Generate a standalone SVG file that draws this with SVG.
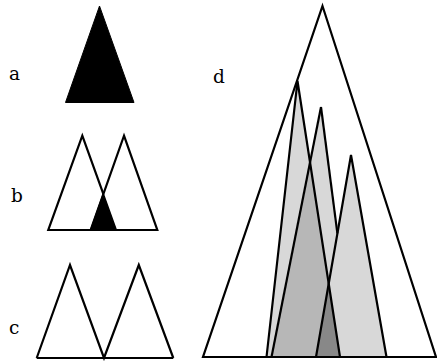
<svg xmlns="http://www.w3.org/2000/svg" width="437" height="361" viewBox="0 0 437 361">
  <style>
    .lbl { font-family: "DejaVu Serif", "Liberation Serif", serif; font-size: 18.5px; fill: #000; }
    .tri { fill: #fff; stroke: #000; stroke-width: 2.2; stroke-linejoin: miter; }
    .edge { fill: none; stroke: #000; stroke-width: 2.2; stroke-linejoin: miter; stroke-linecap: butt; }
    .light { fill: #d8d8d8; stroke: none; }
    .mid { fill: #b7b7b7; stroke: none; }
    .dark { fill: #888888; stroke: none; }
  </style>
  <rect width="437" height="361" fill="#fff"/>

  <g id="labels">
    <text class="lbl" x="9" y="80">a</text>
    <text class="lbl" x="11" y="201.5">b</text>
    <text class="lbl" x="9" y="334">c</text>
    <text class="lbl" x="213" y="82.5">d</text>
  </g>

  <g id="panel-a">
    <polygon points="99.5,6 134,102.5 65.5,102.5" fill="#000" stroke="#000" stroke-width="1"/>
  </g>

  <g id="panel-b">
    <polygon class="tri" points="82.3,135.7 116.3,230 48.3,230"/>
    <polygon class="tri" points="124,135.7 157.3,230 90.7,230"/>
    <polygon points="103.35,194.1 116.3,230 90.7,230" fill="#000" stroke="#000" stroke-width="1.5" stroke-linejoin="miter"/>
  </g>

  <g id="panel-c">
    <polyline class="edge" points="36.7,358 70,265 104,358 138.8,265 173.3,358"/>
    <line class="edge" x1="36.7" y1="358" x2="173.3" y2="358"/>
  </g>

  <g id="panel-d">
    <polygon class="tri" points="322.5,6 436,357 203,357"/>
    <!-- fills -->
    <polygon class="light" points="321,107 353.5,357 271.5,357"/>
    <polygon class="light" points="351,155 386.5,357 316,357"/>
    <polygon class="light" points="297.5,81 340,357 266.5,357"/>
    <polygon class="mid" points="310,162.4 328.7,283.7 316,357 271.5,357"/>
    <polygon class="dark" points="328.7,283.7 340,357 316,357"/>
    <!-- outlines -->
    <polyline class="edge" points="266.5,357 297.5,81 340,357"/>
    <line class="edge" x1="321" y1="107" x2="271.5" y2="357"/>
    <line class="edge" x1="321" y1="107" x2="337.4" y2="233.4"/>
    <polyline class="edge" points="316,357 351,155 386.5,357"/>
    <line class="edge" x1="203" y1="357" x2="436" y2="357"/>
  </g>
</svg>
